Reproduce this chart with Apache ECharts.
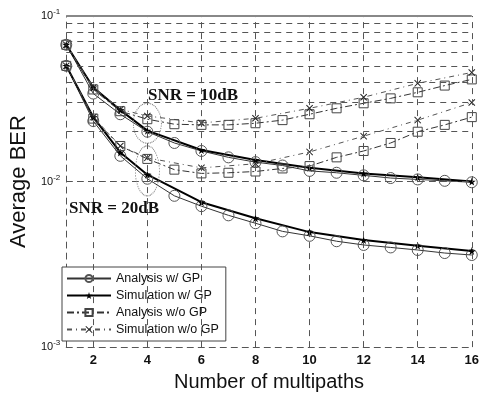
<!DOCTYPE html>
<html>
<head>
<meta charset="utf-8">
<script src="https://cdn.jsdelivr.net/npm/echarts@6/dist/echarts.min.js"></script>
<style>
  html, body { margin: 0; padding: 0; background: #fff; }
  #chart { width: 482px; height: 397px; }
</style>
</head>
<body>
<div id="chart"></div>
<script>
// x positions
const xAna = [1, 2, 3, 4, 5, 6, 7, 8, 9, 10, 11, 12, 13, 14, 15, 16]
const xSim = [1, 2, 3, 4, 6, 8, 10, 12, 14, 16]

// SNR = 10dB
const anaGp10 = [0.067, 0.034, 0.0255, 0.020, 0.0171, 0.0153, 0.0140, 0.0131, 0.0125, 0.0116, 0.0113, 0.0109, 0.0105, 0.0103, 0.0101, 0.0099]
const simGp10 = [0.067, 0.037, 0.027, 0.0203, 0.0155, 0.0135, 0.0121, 0.0112, 0.0106, 0.0100]
const anaNo10 = [0.067, 0.036, 0.0266, 0.0238, 0.0222, 0.0220, 0.0220, 0.0225, 0.0235, 0.0255, 0.0277, 0.0297, 0.0318, 0.0346, 0.038, 0.0414]
const simNo10 = [0.067, 0.037, 0.0273, 0.0249, 0.0226, 0.0241, 0.0277, 0.0323, 0.0392, 0.0456]

// SNR = 20dB
const anaGp20 = [0.050, 0.0232, 0.0143, 0.0104, 0.0082, 0.0071, 0.00625, 0.0056, 0.0050, 0.0047, 0.00436, 0.00414, 0.0040, 0.00386, 0.0037, 0.0036]
const simGp20 = [0.050, 0.0245, 0.015, 0.0110, 0.0075, 0.0060, 0.00495, 0.00443, 0.0041, 0.0038]
const anaNo20 = [0.050, 0.024, 0.0164, 0.0137, 0.0118, 0.0112, 0.0113, 0.0115, 0.0120, 0.0124, 0.0140, 0.0153, 0.0171, 0.020, 0.022, 0.0245]
const simNo20 = [0.050, 0.0245, 0.0164, 0.0139, 0.0121, 0.0128, 0.0151, 0.0188, 0.0235, 0.030]

const xTicks = [2, 4, 6, 8, 10, 12, 14, 16]
const xGrid = [2, 4, 6, 8, 10, 12, 14, 16]
const yMinorGrid = [0.002, 0.003, 0.004, 0.005, 0.006, 0.007, 0.008, 0.009,
  0.02, 0.03, 0.04, 0.05, 0.06, 0.07, 0.08, 0.09]
const names = ['Analysis w/ GP', 'Simulation w/ GP', 'Analysis w/o GP', 'Simulation w/o GP']

const STAR = 'path://M50,0 L61,35 L98,35 L68,57 L79,91 L50,70 L21,91 L32,57 L2,35 L39,35 Z'
const CROSS = 'path://M1,0 L5,4 L9,0 L10,1 L6,5 L10,9 L9,10 L5,6 L1,10 L0,9 L4,5 L0,1 Z'

const styles = {
  'Analysis w/ GP': {
    symbol: 'circle', symbolSize: 11,
    itemStyle: { color: 'rgba(0,0,0,0)', borderColor: '#555', borderWidth: 1 },
    lineStyle: { color: '#333', width: 1 },
  },
  'Simulation w/ GP': {
    symbol: STAR, symbolSize: 8,
    itemStyle: { color: '#000' },
    lineStyle: { color: '#000', width: 2 },
  },
  'Analysis w/o GP': {
    symbol: 'rect', symbolSize: 9,
    itemStyle: { color: 'rgba(0,0,0,0)', borderColor: '#444', borderWidth: 1 },
    lineStyle: { color: '#333', width: 1, type: [7, 3, 2, 3] },
  },
  'Simulation w/o GP': {
    symbol: CROSS, symbolSize: 7,
    itemStyle: { color: '#222' },
    lineStyle: { color: '#555', width: 1, type: [5, 4, 1, 4] },
  },
}

function pairs(xs, ys) {
  return xs.map((x, i) => [x, ys[i]])
}

function makeSeries(name, xs, ys) {
  return Object.assign({
    name,
    type: 'line',
    data: pairs(xs, ys),
    showAllSymbol: true,
    animation: false,
    z: 3,
  }, styles[name])
}

const gridLine = { color: '#555', width: 1, type: [6, 5] }

const series = [
  makeSeries('Analysis w/ GP', xAna, anaGp10),
  makeSeries('Analysis w/ GP', xAna, anaGp20),
  makeSeries('Simulation w/ GP', xSim, simGp10),
  makeSeries('Simulation w/ GP', xSim, simGp20),
  makeSeries('Analysis w/o GP', xAna, anaNo10),
  makeSeries('Analysis w/o GP', xAna, anaNo20),
  makeSeries('Simulation w/o GP', xSim, simNo10),
  makeSeries('Simulation w/o GP', xSim, simNo20),
  {
    // grid lines and the two SNR ellipses
    type: 'line',
    data: [],
    silent: true,
    z: 1,
    markLine: {
      silent: true,
      symbol: 'none',
      animation: false,
      label: { show: false },
      lineStyle: gridLine,
      data: [
        ...yMinorGrid.map((v) => ({ yAxis: v })),
        ...xGrid.map((v) => ({ xAxis: v })),
        { yAxis: 0.1, lineStyle: { color: '#888', width: 2, type: 'solid' } },
      ],
    },
    markPoint: {
      silent: true,
      animation: false,
      label: { show: false },
      itemStyle: { color: 'rgba(0,0,0,0)', borderColor: '#777', borderWidth: 1, borderType: 'dotted' },
      data: [
        { coord: [4, 0.0225], symbol: 'circle', symbolSize: [28, 40] },
        { coord: [4, 0.0116], symbol: 'circle', symbolSize: [24, 50] },
      ],
    },
  },
]

const chart = echarts.init(document.getElementById('chart'))
chart.setOption({
  backgroundColor: '#fff',
  animation: false,
  grid: { left: 60, right: 6, top: 16, bottom: 46 },
  legend: {
    data: names,
    orient: 'vertical',
    left: 62,
    top: 267,
    itemGap: 4,
    itemWidth: 44,
    itemHeight: 9,
    padding: [5, 7, 5, 4],
    borderColor: '#444',
    borderWidth: 1,
    backgroundColor: '#fff',
    textStyle: { fontFamily: 'Liberation Sans', fontSize: 12.5, color: '#111' },
  },
  graphic: [
    { type: 'text', left: 148, top: 87, z: 10,
      style: { text: 'SNR = 10dB', font: 'bold 17px "Liberation Serif"', fill: '#111' } },
    { type: 'text', left: 69, top: 200, z: 10,
      style: { text: 'SNR = 20dB', font: 'bold 17px "Liberation Serif"', fill: '#111' } },
  ],
  xAxis: {
    type: 'value',
    min: 1,
    max: 16,
    name: 'Number of multipaths',
    nameLocation: 'middle',
    nameGap: 22,
    nameTextStyle: { fontFamily: 'Liberation Sans', fontSize: 20, color: '#111' },
    axisLine: { show: true, lineStyle: gridLine },
    axisTick: { show: false },
    splitLine: { show: false },
    axisLabel: {
      customValues: xTicks,
      margin: 7,
      fontFamily: 'Liberation Sans',
      fontSize: 13,
      fontWeight: 'bold',
      color: '#111',
    },
  },
  yAxis: {
    type: 'log',
    logBase: 10,
    min: 0.001,
    max: 0.1,
    name: 'Average BER',
    nameLocation: 'middle',
    nameGap: 34,
    nameTextStyle: { fontFamily: 'Liberation Sans', fontSize: 22, color: '#111' },
    axisLine: { show: true, lineStyle: gridLine },
    axisTick: { show: false },
    splitLine: { show: true, lineStyle: gridLine },
    axisLabel: {
      margin: 6,
      formatter: (v) => '{b|10}{s|' + Math.round(Math.log10(v)) + '}',
      rich: {
        b: { fontFamily: 'Liberation Sans', fontSize: 11, color: '#111' },
        s: { fontFamily: 'Liberation Sans', fontSize: 8, color: '#111', padding: [0, 0, 8, 0] },
      },
    },
  },
  series,
})
</script>
</body>
</html>
